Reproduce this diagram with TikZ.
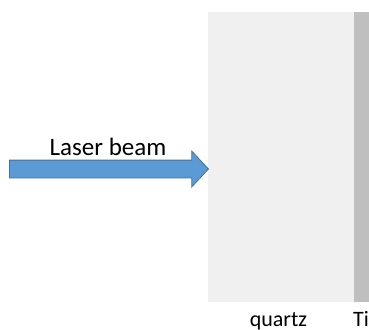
\documentclass[tikz,border=0pt]{standalone}
\usepackage{fontspec}
\setmainfont{Carlito}
\usetikzlibrary{shapes.arrows, positioning}

\definecolor{beamblue}{HTML}{5B9BD5}
\definecolor{beamedge}{HTML}{41719C}
\definecolor{quartzgray}{HTML}{F0F0F0}
\definecolor{tigray}{HTML}{BFBFBF}

\begin{document}
\begin{tikzpicture}[x=1pt, y=-1pt, every node/.style={font=\fontsize{22}{26}\selectfont, inner sep=0pt},
    layer/.style={rectangle, draw=none, anchor=north west}]
        \useasboundingbox (0,0) rectangle (369,329);
        \clip (0,0) rectangle (369,329);
        % sample: quartz plate with Ti film
        \node[layer, fill=quartzgray, minimum width=146pt, minimum height=290pt] (quartz) at (208,12) {};
        \node[layer, fill=tigray, minimum width=21pt, minimum height=290pt] (ti) at (354,12) {};
        
        % incoming beam
        \node[single arrow, draw=beamedge, fill=beamblue, line width=0.8pt,
              inner xsep=0pt, inner ysep=8.5pt, minimum height=199pt,
              single arrow head extend=9pt, single arrow tip angle=94,
              anchor=tip] (beam) at (209,169) {};
        \node[anchor=base, font=\fontsize{25}{28}\selectfont] (beamlabel) at (108,155) {Laser beam};
        
        \node[anchor=base] (quartzlabel) at (278.5,326) {quartz};
        \node[anchor=base west] (tilabel) at (353,326) {Ti};
    \end{tikzpicture}
\end{document}
